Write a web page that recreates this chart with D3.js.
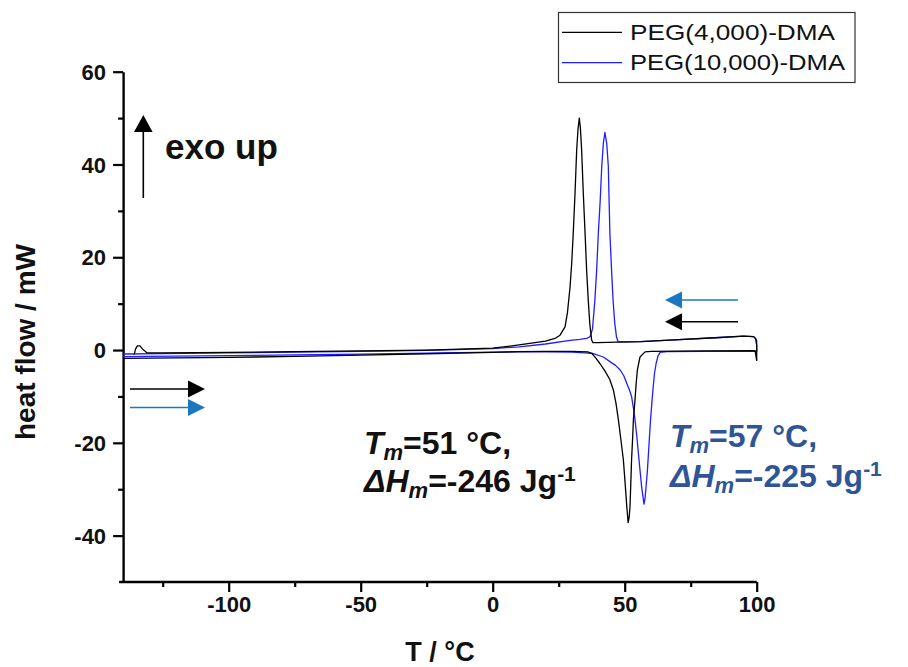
<!DOCTYPE html>
<html>
<head>
<meta charset="utf-8">
<script src="https://cdn.jsdelivr.net/npm/d3@7/dist/d3.min.js"></script>
<style>
  html, body { margin: 0; padding: 0; background: #fff; }
  svg { display: block; font-family: Arial, "Liberation Sans", sans-serif; }
</style>
</head>
<body>
<svg id="chart" width="908" height="667"></svg>
<script>
// DSC thermograms: heat flow (mW) vs temperature (°C), heating and cooling runs
const seriesNames = ["PEG(4,000)-DMA", "PEG(10,000)-DMA"];
const seriesColors = ["#000000", "#1f1fff"];

// PEG(4,000)-DMA heating run [T, heat flow]
const peg4kHeating = [
  [-140, -1.8], [-120, -1.7], [-100, -1.6], [-75, -1.35], [-50, -1.1], [-25, -0.8],
  [0, -0.5], [10, -0.35], [20, -0.3], [30, -0.3], [36, -0.4], [37.5, -0.7],
  [39, -1.7], [40.6, -2.9], [42.5, -4.5], [44.4, -6.4], [45.7, -8.6], [46.7, -11.5],
  [47.6, -15], [48.6, -19.5], [49.5, -23.7], [50.2, -29], [50.8, -33.8], [51.3, -37.2],
  [51.7, -36], [52, -33.8], [52.3, -29], [52.6, -23.7], [53, -19], [53.3, -15],
  [53.9, -10.8], [54.3, -7.5], [54.8, -4.3], [55.8, -1.5], [57.7, -0.4], [60, -0.3],
  [80, -0.2], [99.4, -0.15], [100, -2.3]
];

// PEG(4,000)-DMA cooling run [T, heat flow]
const peg4kCooling = [
  [100, -2.3], [100, 1.0], [99.6, 2.4], [98.8, 2.9], [95, 3.0], [86, 2.7],
  [67, 2.15], [56, 1.8], [47, 1.7], [40, 1.6], [38, 1.6], [37.5, 2.1],
  [36.8, 5.5], [36.2, 10.7], [35.6, 17], [35, 25], [34.3, 34], [33.7, 43],
  [33.2, 48], [32.8, 50], [32.3, 47.5], [31.8, 43], [31.2, 34], [30.5, 25],
  [29.9, 18.5], [29.3, 13.6], [28.3, 8], [27.4, 5], [25.5, 3.2], [23.6, 2.5],
  [20, 1.9], [10, 1.1], [0, 0.4], [-25, 0.0], [-50, -0.2], [-75, -0.35],
  [-100, -0.5], [-125, -0.6], [-131, -0.6], [-132.6, 0.2], [-133.6, 0.9],
  [-134.6, 0.9], [-135.3, 0.2], [-135.8, -1.0]
];

// PEG(10,000)-DMA heating run [T, heat flow]
const peg10kHeating = [
  [-140, -1.4], [-120, -1.3], [-100, -1.2], [-75, -1.05], [-50, -0.9], [-25, -0.65],
  [0, -0.45], [10, -0.4], [20, -0.4], [30, -0.45], [37.8, -0.7], [41.9, -1.5],
  [44.4, -2.5], [46.5, -3.3], [48.3, -4.3], [49.7, -5.6], [50.8, -7.2], [51.8, -8.6],
  [52.6, -10], [53.3, -12.5], [53.9, -15], [54.6, -18.7], [55.2, -22.3], [55.8, -25.9],
  [56.4, -29.4], [57.3, -33.2], [57.7, -32], [58.1, -29.4], [58.6, -26], [59, -22.3],
  [59.4, -18.6], [59.8, -15], [60.3, -11.3], [60.8, -7.9], [61.3, -5], [61.9, -2.9],
  [62.6, -1.3], [63.4, -0.5], [66, -0.35], [80, -0.3], [99.4, -0.3], [100, -0.35]
];

// PEG(10,000)-DMA cooling run [T, heat flow]
const peg10kCooling = [
  [100, -0.35], [100, 2.0], [99.6, 2.5], [98.8, 2.9], [95, 3.0], [86, 2.7],
  [67, 2.15], [56, 1.8], [48.5, 1.75], [47.5, 1.8], [46.9, 2.8], [46.2, 6],
  [45.6, 10.7], [45, 17.5], [44.4, 25], [44.1, 32], [43.8, 39.5], [43.2, 44.5],
  [42.5, 46.9], [41.9, 44.5], [41.3, 39.5], [40.7, 32], [40, 25], [39.4, 17.5],
  [38.7, 10.7], [37.8, 4.5], [36.9, 2.9], [35.6, 2.5], [33, 2.3], [29.3, 2.1],
  [20, 1.3], [10, 0.7], [0, 0.3], [-25, -0.05], [-50, -0.3], [-75, -0.45],
  [-100, -0.6], [-125, -0.75], [-140, -0.85]
];

const xMajorTicks = [-100, -50, 0, 50, 100];
const xMinorTicks = [-125, -75, -25, 25, 75];
const yMajorTicks = [-40, -20, 0, 20, 40, 60];
const yMinorTicks = [-30, -10, 10, 30, 50];

const svg = d3.select("#chart");

const x = d3.scaleLinear().domain([-140, 100]).range([123.1, 756.7]);
const y = d3.scaleLinear().domain([-50, 60]).range([582, 71.7]);

const fmt = d => String(d);

// axes
const gx = svg.append("g").attr("transform", `translate(0,${y(-50)})`);
gx.call(d3.axisBottom(x).tickValues(xMajorTicks).tickSize(10).tickSizeOuter(0).tickFormat(fmt));
const gxMinor = svg.append("g").attr("transform", `translate(0,${y(-50)})`);
gxMinor.call(d3.axisBottom(x).tickValues(xMinorTicks).tickSize(5).tickSizeOuter(0).tickFormat(""));
gxMinor.select(".domain").remove();

const gy = svg.append("g").attr("transform", `translate(${x(-140)},0)`);
gy.call(d3.axisLeft(y).tickValues(yMajorTicks).tickSize(10).tickSizeOuter(0).tickFormat(fmt));
const gyMinor = svg.append("g").attr("transform", `translate(${x(-140)},0)`);
gyMinor.call(d3.axisLeft(y).tickValues(yMinorTicks).tickSize(5).tickSizeOuter(0).tickFormat(""));
gyMinor.select(".domain").remove();

svg.selectAll(".domain").attr("stroke", "#000").attr("stroke-width", 2.4);
svg.selectAll(".tick line").attr("stroke", "#000").attr("stroke-width", 2.2);
// extend bottom axis line under the corner
gx.select(".domain").attr("d", `M${x(-140) - 4},0H${x(100)}`);

gx.selectAll(".tick text")
  .attr("font-size", 22).attr("font-weight", "bold").attr("fill", "#111")
  .attr("font-family", "Arial, 'Liberation Sans', sans-serif")
  .attr("y", 14).attr("dy", "0.72em");
gy.selectAll(".tick text")
  .attr("font-size", 22).attr("font-weight", "bold").attr("fill", "#111")
  .attr("font-family", "Arial, 'Liberation Sans', sans-serif")
  .attr("x", -17).attr("dy", "0.35em");

// curves
const line = d3.line().x(d => x(d[0])).y(d => y(d[1]));
const curves = [
  { data: peg10kHeating, color: seriesColors[1] },
  { data: peg10kCooling, color: seriesColors[1] },
  { data: peg4kHeating, color: seriesColors[0] },
  { data: peg4kCooling, color: seriesColors[0] }
];
svg.append("g").selectAll("path").data(curves).join("path")
  .attr("d", c => line(c.data))
  .attr("fill", "none")
  .attr("stroke", c => c.color)
  .attr("stroke-width", 1.3)
  .attr("stroke-linejoin", "round");

// axis titles
svg.append("text")
  .attr("x", 440).attr("y", 661)
  .attr("text-anchor", "middle")
  .attr("font-size", 27).attr("font-weight", "bold").attr("fill", "#111")
  .text("T / °C");
svg.append("text")
  .attr("transform", "translate(35,342) rotate(-90)")
  .attr("text-anchor", "middle")
  .attr("font-size", 28).attr("font-weight", "bold").attr("fill", "#111")
  .text("heat flow / mW");

// arrow helper
function arrow(x1, x2, yy, color, hw, hl, sw) {
  const dir = Math.sign(x2 - x1);
  const g = svg.append("g");
  g.append("line")
    .attr("x1", x1).attr("y1", yy).attr("x2", x2 - dir * hl).attr("y2", yy)
    .attr("stroke", color).attr("stroke-width", sw);
  g.append("path")
    .attr("d", `M${x2},${yy}L${x2 - dir * hl},${yy - hw}L${x2 - dir * hl},${yy + hw}Z`)
    .attr("fill", color);
}

// exo up marker
svg.append("line")
  .attr("x1", 143.3).attr("y1", 198).attr("x2", 143.3).attr("y2", 128)
  .attr("stroke", "#000").attr("stroke-width", 1.6);
svg.append("path")
  .attr("d", "M143.3,115L134,132L152.6,132Z")
  .attr("fill", "#000");
svg.append("text")
  .attr("x", 165).attr("y", 159)
  .attr("font-size", 35).attr("font-weight", "bold").attr("fill", "#111")
  .text("exo up");

// scan direction arrows
arrow(130, 205, 389, "#000", 8.5, 17, 1.6);
arrow(130, 205, 407.5, "#1a78c2", 8.5, 17, 1.6);
arrow(738, 665, 300, "#1a78c2", 8.5, 17, 1.6);
arrow(738, 665, 321.7, "#000", 8.5, 17, 1.6);

// melting annotations
function annotate(x0, y0, gap, color, tm, dh) {
  const t1 = svg.append("text").attr("x", x0).attr("y", y0)
    .attr("font-size", 32).attr("font-weight", "bold").attr("fill", color);
  t1.append("tspan").attr("font-style", "italic").text("T");
  t1.append("tspan").attr("font-style", "italic").attr("font-size", 22).attr("dy", 6).text("m");
  t1.append("tspan").attr("dy", -6).text(`=${tm} °C,`);
  const t2 = svg.append("text").attr("x", x0).attr("y", y0 + gap)
    .attr("font-size", 32).attr("font-weight", "bold").attr("fill", color);
  t2.append("tspan").attr("font-style", "italic").text("ΔH");
  t2.append("tspan").attr("font-style", "italic").attr("font-size", 22).attr("dy", 6).text("m");
  t2.append("tspan").attr("dy", -6).text(`=${dh} Jg`);
  t2.append("tspan").attr("font-size", 21).attr("dy", -11).text("-1");
}
annotate(364, 454, 38, "#111", 51, -246);
annotate(670, 447, 40, "#2e5597", 57, -225);

// legend
const lg = svg.append("g");
lg.append("rect")
  .attr("x", 558.5).attr("y", 12.5).attr("width", 296.5).attr("height", 70)
  .attr("fill", "#fff").attr("stroke", "#333").attr("stroke-width", 1.2);
const rows = [32.3, 62.7];
const textW = [205, 215];
seriesNames.forEach((name, i) => {
  lg.append("line")
    .attr("x1", 562).attr("x2", 622).attr("y1", rows[i]).attr("y2", rows[i])
    .attr("stroke", seriesColors[i]).attr("stroke-width", 1.3);
  lg.append("text")
    .attr("x", 630).attr("y", rows[i] + 7.5)
    .attr("font-size", 22).attr("fill", "#111")
    .attr("textLength", textW[i]).attr("lengthAdjust", "spacingAndGlyphs")
    .text(name);
});
</script>
</body>
</html>
